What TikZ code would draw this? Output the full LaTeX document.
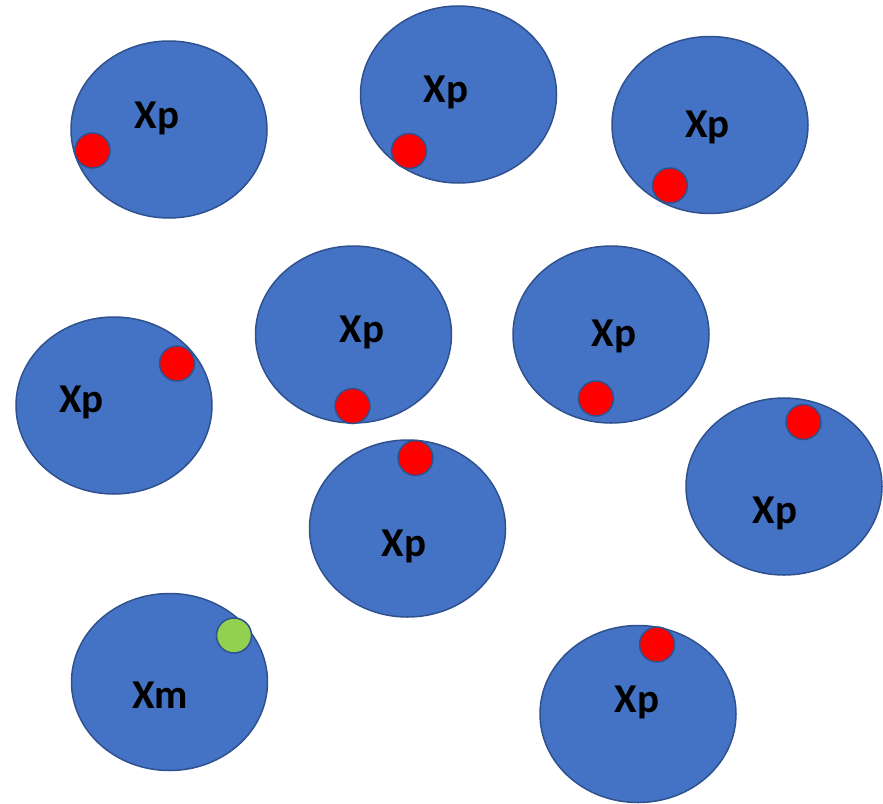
\documentclass[tikz,border=0pt]{standalone}
\usepackage{fontspec}
\newfontfamily\lblfont{Carlito}
\usetikzlibrary{shapes.geometric}
\definecolor{cellblue}{HTML}{4472C4}
\definecolor{cellborder}{HTML}{2F528F}
\definecolor{dotred}{HTML}{FF0000}
\definecolor{dotgreen}{HTML}{92D050}
\tikzset{
  cell/.style={ellipse, draw=cellborder, fill=cellblue, line width=1.5pt, inner sep=0pt, minimum width=196pt, minimum height=177pt},
  reddot/.style={circle, draw=cellborder, fill=dotred, line width=1.5pt, inner sep=0pt, minimum size=35pt},
  greendot/.style={circle, draw=cellborder, fill=dotgreen, line width=1.5pt, inner sep=0pt, minimum size=35pt},
  lbl/.style={anchor=base, inner sep=0pt, font=\lblfont\bfseries\fontsize{41}{41}\selectfont}
}
\begin{document}
\begin{tikzpicture}[x=1pt,y=-1pt]
\useasboundingbox (0,0) rectangle (883,803);
% row 1
\node[cell] (c1) at (169,129.5) {};
\node[lbl] (t1) at (157,128) {Xp};
\node[reddot] (d1) at (92.5,150.5) {};

\node[cell] (c2) at (458.5,94.5) {};
\node[lbl] (t2) at (446,102) {Xp};
\node[reddot] (d2) at (409,151) {};

\node[cell] (c3) at (710,125) {};
\node[lbl] (t3) at (707.5,137) {Xp};
\node[reddot] (d3) at (670,185.5) {};

% row 2
\node[cell] (c4) at (114,405.5) {};
\node[lbl] (t4) at (81.5,412) {Xp};
\node[reddot] (d4) at (177,363.5) {};

\node[cell] (c5) at (353.5,334.5) {};
\node[lbl] (t5) at (362,342) {Xp};
\node[reddot] (d5) at (352.5,406) {};

\node[cell] (c6) at (611,334.5) {};
\node[lbl] (t6) at (614,346) {Xp};
\node[reddot] (d6) at (596,398.5) {};

% row 3
\node[cell] (c7) at (784,486.5) {};
\node[lbl] (t7) at (775,523) {Xp};
\node[reddot] (d7) at (803.5,422) {};

\node[cell] (c8) at (407.5,528.5) {};
\node[lbl] (t8) at (404,556) {Xp};
\node[reddot] (d8) at (415.5,458) {};

% row 4
\node[cell] (c9) at (169.5,682) {};
\node[lbl] (t9) at (160,708) {Xm};
\node[greendot] (g9) at (234,635.5) {};

\node[cell] (c10) at (638,714) {};
\node[lbl] (t10) at (637,712) {Xp};
\node[reddot] (d10) at (657,644.5) {};
\end{tikzpicture}
\end{document}
